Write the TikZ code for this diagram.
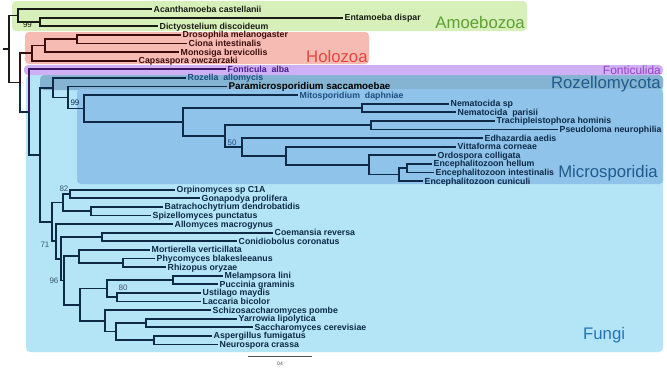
\documentclass[tikz,border=0pt]{standalone}
\usepackage{fontspec}
\setmainfont{Liberation Sans}
\definecolor{amoF}{HTML}{D7EFB9}
\definecolor{holF}{HTML}{F6BCB4}
\definecolor{fonF}{HTML}{D0B0F4}
\definecolor{funF}{HTML}{B3E5F7}
\definecolor{rozF}{HTML}{84B4D1}
\definecolor{micF}{HTML}{8FC3E9}
\definecolor{amoT}{HTML}{5CA132}
\definecolor{holT}{HTML}{E8453C}
\definecolor{fonT}{HTML}{9B3FC8}
\definecolor{fonS}{HTML}{4A1E8C}
\definecolor{rozT}{HTML}{1F5C8F}
\definecolor{funT}{HTML}{2673B3}
\definecolor{amoL}{HTML}{1A1C16}
\definecolor{holL}{HTML}{3B0D0D}
\definecolor{fonL}{HTML}{3A1763}
\definecolor{funL}{HTML}{0E2A47}
\definecolor{bluT}{HTML}{1F4E80}
\begin{document}
\begin{tikzpicture}[x=1bp,y=-1bp,
  leaf/.style={anchor=west, inner sep=0pt, inner xsep=1.5bp, font=\bfseries\fontsize{8.8}{9}\selectfont, text height=6.3bp, text depth=0pt},
  br/.style={line width=1.8bp},
  boot/.style={font=\fontsize{8}{9}\selectfont, inner sep=0pt},
  big/.style={font=\fontsize{16.8}{18}\selectfont, inner sep=0pt},
  grp/.style={rounded corners=4bp}]
\useasboundingbox (0,0) rectangle (667,373);
\fill[white] (0,0) rectangle (667,373);
% group boxes
\fill[grp, funF] (26,75) rectangle (663,352);
\fill[grp, rozF] (40,75) rectangle (663,90);
\fill[grp, micF] (77,89) rectangle (663,184);
\fill[grp, fonF] (24,65) rectangle (663,75);
\fill[grp, holF] (25,32) rectangle (369,64);
\fill[grp, amoF] (12,1) rectangle (527,31);
% group labels
\node[big, text=amoT, anchor=base east] (gAmo) at (525,28) {Amoebozoa};
\node[big, text=holT, anchor=base west] (gHol) at (306,62.5) {Holozoa};
\node[font=\fontsize{12}{13}\selectfont, inner sep=0pt, text=fonT, anchor=base east] (gFon) at (661,74) {Fonticulida};
\node[big, text=rozT, anchor=base east] (gRoz) at (661,88.5) {Rozellomycota};
\node[big, text=rozT, anchor=base east] (gMic) at (658,177) {Microsporidia};
\node[big, text=funT, anchor=base west] (gFun) at (583,339) {Fungi};
% leaves
\node[leaf, text=amoL] (l1) at (152,9) {Acanthamoeba castellanii};
\node[leaf, text=amoL] (l2) at (343,17.6) {Entamoeba dispar};
\node[leaf, text=amoL] (l3) at (158,26.2) {Dictyostelium discoideum};
\node[leaf, text=holL] (l4) at (181,34.8) {Drosophila melanogaster};
\node[leaf, text=holL] (l5) at (187,43.4) {Ciona intestinalis};
\node[leaf, text=holL] (l6) at (179,52) {Monosiga brevicollis};
\node[leaf, text=holL] (l7) at (137,60.6) {Capsaspora owczarzaki};
\node[leaf, text=fonS] (l8) at (226,69.2) {Fonticula\ \ alba};
\node[leaf, text=bluT] (l9) at (186,77.8) {Rozella\ \ allomycis};
\node[leaf, text=black, font=\bfseries\fontsize{9.8}{10}\selectfont, text height=7bp] (l10) at (227,86.4) {Paramicrosporidium saccamoebae};
\node[leaf, text=bluT] (l11) at (298,95) {Mitosporidium\ \ daphniae};
\node[leaf, text=funL] (l12) at (449,103.6) {Nematocida sp};
\node[leaf, text=funL] (l13) at (456,112.2) {Nematocida\ \ parisii};
\node[leaf, text=funL] (l14) at (495,120.8) {Trachipleistophora hominis};
\node[leaf, text=funL] (l15) at (558,129.4) {Pseudoloma neurophilia};
\node[leaf, text=funL] (l16) at (483,138) {Edhazardia aedis};
\node[leaf, text=funL] (l17) at (456,146.6) {Vittaforma corneae};
\node[leaf, text=funL] (l18) at (436,155.2) {Ordospora colligata};
\node[leaf, text=funL] (l19) at (432,163.8) {Encephalitozoon hellum};
\node[leaf, text=funL] (l20) at (434,172.4) {Encephalitozoon intestinalis};
\node[leaf, text=funL] (l21) at (423,181) {Encephalitozoon cuniculi};
\node[leaf, text=funL] (l22) at (175,189.6) {Orpinomyces sp C1A};
\node[leaf, text=funL] (l23) at (200,198.2) {Gonapodya prolifera};
\node[leaf, text=funL] (l24) at (163,206.8) {Batrachochytrium dendrobatidis};
\node[leaf, text=funL] (l25) at (151,215.4) {Spizellomyces punctatus};
\node[leaf, text=funL] (l26) at (173,224) {Allomyces macrogynus};
\node[leaf, text=funL] (l27) at (273,232.6) {Coemansia reversa};
\node[leaf, text=funL] (l28) at (237,241.2) {Conidiobolus coronatus};
\node[leaf, text=funL] (l29) at (150,249.8) {Mortierella verticillata};
\node[leaf, text=funL] (l30) at (155,258.4) {Phycomyces blakesleeanus};
\node[leaf, text=funL] (l31) at (166,267) {Rhizopus oryzae};
\node[leaf, text=funL] (l32) at (223,275.6) {Melampsora lini};
\node[leaf, text=funL] (l33) at (218,284.2) {Puccinia graminis};
\node[leaf, text=funL] (l34) at (201,292.8) {Ustilago maydis};
\node[leaf, text=funL] (l35) at (201,301.4) {Laccaria bicolor};
\node[leaf, text=funL] (l36) at (211,310) {Schizosaccharomyces pombe};
\node[leaf, text=funL] (l37) at (237,318.6) {Yarrowia lipolytica};
\node[leaf, text=funL] (l38) at (253,327.2) {Saccharomyces cerevisiae};
\node[leaf, text=funL] (l39) at (212,335.8) {Aspergillus fumigatus};
\node[leaf, text=funL] (l40) at (218,344.4) {Neurospora crassa};
% internal nodes
\coordinate (rs) at (3,48.99);
\coordinate (nRoot) at (9,48.99);
\coordinate (nAm) at (18,15.45);
\coordinate (nEd) at (40,21.9);
\coordinate (nOpi) at (20,82.53);
\coordinate (nHol) at (32,53.08);
\coordinate (nDCM) at (45,45.55);
\coordinate (nDC) at (77,39.1);
\coordinate (nFon) at (29,111.99);
\coordinate (nFun) at (40,154.77);
\coordinate (nRoz) at (53,87.62);
\coordinate (nPara) at (68,97.44);
\coordinate (nMito) at (84,108.47);
\coordinate (nMic) at (183,121.94);
\coordinate (nNem) at (362,107.9);
\coordinate (nTPE) at (225,135.99);
\coordinate (nTP) at (371,125.1);
\coordinate (nEdh) at (242,146.87);
\coordinate (nVit) at (286,155.74);
\coordinate (nOrd) at (369,164.88);
\coordinate (nEnc2) at (399,174.55);
\coordinate (nEnc1) at (407,168.1);
\coordinate (nTF) at (52,221.92);
\coordinate (nChy) at (63,202.5);
\coordinate (nOG) at (70,193.9);
\coordinate (nBS) at (91,211.1);
\coordinate (nAll) at (56,241.34);
\coordinate (nZMD) at (61,258.67);
\coordinate (nCC) at (102,236.9);
\coordinate (nMD) at (64,280.44);
\coordinate (nMuc) at (79,256.25);
\coordinate (nPR) at (123,262.7);
\coordinate (nDik) at (80,304.63);
\coordinate (nBas) at (107,288.5);
\coordinate (nMP) at (173,279.9);
\coordinate (nUL) at (117,297.1);
\coordinate (nAsc) at (105,320.75);
\coordinate (nYSAN) at (116,331.5);
\coordinate (nYS) at (146,322.9);
\coordinate (nAN) at (154,340.1);
% root
\draw[br, amoL] (rs) -- (nRoot);
\draw[br, amoL] (nRoot) |- (nAm);
\draw[br, amoL] (nRoot) |- (nOpi);
% amoebozoa
\draw[br, amoL] (nAm) |- (l1.west);
\draw[br, amoL] (nAm) |- (nEd);
\draw[br, amoL] (nEd) |- (l2.west);
\draw[br, amoL] (nEd) |- (l3.west);
% holozoa
\draw[br, holL] (nOpi) |- (nHol);
\draw[br, holL] (nHol) |- (nDCM);
\draw[br, holL] (nHol) |- (l7.west);
\draw[br, holL] (nDCM) |- (nDC);
\draw[br, holL] (nDCM) |- (l6.west);
\draw[br, holL] (nDC) |- (l4.west);
\draw[br, holL] (nDC) |- (l5.west);
% fonticula + fungi
\draw[br, funL] (nOpi) |- (nFon);
\draw[br, fonL] (nFon) |- (l8.west);
\draw[br, funL] (nFon) |- (nFun);
\draw[br, funL] (nFun) |- (nRoz);
\draw[br, funL] (nFun) |- (nTF);
\draw[br, funL] (nRoz) |- (l9.west);
\draw[br, funL] (nRoz) |- (nPara);
\draw[br, funL] (nPara) |- (l10.west);
\draw[br, funL] (nPara) |- (nMito);
\draw[br, funL] (nMito) |- (l11.west);
\draw[br, funL] (nMito) |- (nMic);
\draw[br, funL] (nMic) |- (nNem);
\draw[br, funL] (nMic) |- (nTPE);
\draw[br, funL] (nNem) |- (l12.west);
\draw[br, funL] (nNem) |- (l13.west);
\draw[br, funL] (nTPE) |- (nTP);
\draw[br, funL] (nTPE) |- (nEdh);
\draw[br, funL] (nTP) |- (l14.west);
\draw[br, funL] (nTP) |- (l15.west);
\draw[br, funL] (nEdh) |- (l16.west);
\draw[br, funL] (nEdh) |- (nVit);
\draw[br, funL] (nVit) |- (l17.west);
\draw[br, funL] (nVit) |- (nOrd);
\draw[br, funL] (nOrd) |- (l18.west);
\draw[br, funL] (nOrd) |- (nEnc2);
\draw[br, funL] (nEnc2) |- (nEnc1);
\draw[br, funL] (nEnc2) |- (l21.west);
\draw[br, funL] (nEnc1) |- (l19.west);
\draw[br, funL] (nEnc1) |- (l20.west);
% true fungi
\draw[br, funL] (nTF) |- (nChy);
\draw[br, funL] (nTF) |- (nAll);
\draw[br, funL] (nChy) |- (nOG);
\draw[br, funL] (nChy) |- (nBS);
\draw[br, funL] (nOG) |- (l22.west);
\draw[br, funL] (nOG) |- (l23.west);
\draw[br, funL] (nBS) |- (l24.west);
\draw[br, funL] (nBS) |- (l25.west);
\draw[br, funL] (nAll) |- (l26.west);
\draw[br, funL] (nAll) |- (nZMD);
\draw[br, funL] (nZMD) |- (nCC);
\draw[br, funL] (nZMD) |- (nMD);
\draw[br, funL] (nCC) |- (l27.west);
\draw[br, funL] (nCC) |- (l28.west);
\draw[br, funL] (nMD) |- (nMuc);
\draw[br, funL] (nMD) |- (nDik);
\draw[br, funL] (nMuc) |- (l29.west);
\draw[br, funL] (nMuc) |- (nPR);
\draw[br, funL] (nPR) |- (l30.west);
\draw[br, funL] (nPR) |- (l31.west);
\draw[br, funL] (nDik) |- (nBas);
\draw[br, funL] (nDik) |- (nAsc);
\draw[br, funL] (nBas) |- (nMP);
\draw[br, funL] (nBas) |- (nUL);
\draw[br, funL] (nMP) |- (l32.west);
\draw[br, funL] (nMP) |- (l33.west);
\draw[br, funL] (nUL) |- (l34.west);
\draw[br, funL] (nUL) |- (l35.west);
\draw[br, funL] (nAsc) |- (l36.west);
\draw[br, funL] (nAsc) |- (nYSAN);
\draw[br, funL] (nYSAN) |- (nYS);
\draw[br, funL] (nYSAN) |- (nAN);
\draw[br, funL] (nYS) |- (l37.west);
\draw[br, funL] (nYS) |- (l38.west);
\draw[br, funL] (nAN) |- (l39.west);
\draw[br, funL] (nAN) |- (l40.west);
% bootstrap values
\node[boot, text=amoL] (b1) at (27.5,25) {99};
\node[boot, text=funL] (b2) at (75,103) {99};
\node[boot, text=bluT] (b3) at (232,143) {50};
\node[boot, text=funL!80] (b4) at (64,188.5) {82};
\node[boot, text=funL!80] (b5) at (45,245) {71};
\node[boot, text=funL!80] (b6) at (54,280.5) {96};
\node[boot, text=funL!80] (b7) at (123,287.5) {80};
% scale bar
\coordinate (sb1) at (248,356);
\coordinate (sb2) at (312,356);
\draw[line width=1bp, black!70] (sb1) -- (sb2);
\node[font=\fontsize{5}{6}\selectfont, inner sep=0pt, text=black!70] (sbl) at (280,364) {04};
\end{tikzpicture}
\end{document}
